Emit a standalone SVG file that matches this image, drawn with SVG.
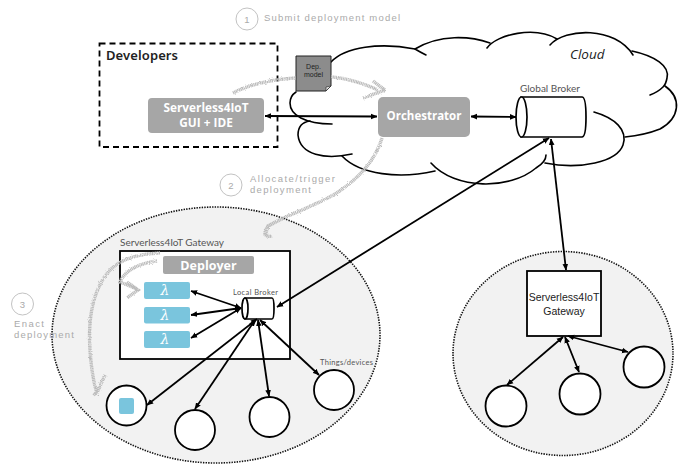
<svg xmlns="http://www.w3.org/2000/svg" width="684" height="465" viewBox="0 0 684 465">
<style>
text{font-family:"Lato","Liberation Sans",sans-serif;fill:#555}
.hand{font-family:"Liberation Sans",sans-serif;fill:#aaa;font-size:9.5px}
.lbl{font-size:10px}
.btn{font-family:"Open Sans",sans-serif;font-weight:700;fill:#fff;text-anchor:middle}
.grey{fill:#a6a6a6}
.zone{fill:#f2f2f2;stroke:#111;stroke-width:1.6;stroke-dasharray:1.4 1.2}
.thing{fill:#fff;stroke:#000;stroke-width:1.8}
.box{fill:#fff;stroke:#000;stroke-width:1.8}
.lam{fill:#7ac5dd}
.lamt{font-family:"DejaVu Serif",serif;font-style:italic;fill:#fff;font-size:14px;text-anchor:middle}
.cloud{fill:none;stroke:#000;stroke-width:1.6;stroke-linecap:round}
.c path,.c line{fill:none;stroke:#000;stroke-width:1.8;marker-start:url(#h);marker-end:url(#h)}
.sk{fill:none;stroke:#bcbcbc;stroke-width:3.4;stroke-dasharray:1.2 .5;filter:url(#rough)}
.step{fill:#fff;stroke:#bbb;stroke-width:.9}
</style>
<defs>
<marker id="h" viewBox="0 0 8 8" refX="7.5" refY="4" markerWidth="6.500" markerHeight="6.500" markerUnits="userSpaceOnUse" orient="auto-start-reverse"><path d="M0 0.5L8 4L0 7.500z" fill="#000"/></marker>
<filter id="rough" x="-20%" y="-20%" width="140%" height="140%"><feTurbulence type="fractalNoise" baseFrequency=".7" numOctaves="2" seed="3"/><feDisplacementMap in="SourceGraphic" scale="2.5"/></filter>
</defs>
<g id="zone-left"><ellipse class="zone" cx="216" cy="335" rx="164" ry="128"/></g>
<g id="zone-right"><ellipse class="zone" cx="563" cy="353.500" rx="110" ry="102"/></g>
<g id="cloud">
<path class="cloud" d="M331 62C345 47 380 42 415 49"/>
<path class="cloud" d="M415 49C440 34 470 36 490 43M426 55Q420 52 415 49"/>
<path class="cloud" d="M487 48C497 34 535 26 557 39"/>
<path class="cloud" d="M550 45C565 28 615 26 633 55"/>
<path class="cloud" d="M632 51C655 56 670 66 667 78Q666 84 663 87Q658 92 650 95"/>
<path class="cloud" d="M665 86C682 98 680 118 660 129Q645 135 625 137"/>
<path class="cloud" d="M594 112C615 118 628 130 623 145C617 162 580 170 545 163"/>
<path class="cloud" d="M546 155Q546 162 536 168C510 190 455 190 431 163"/>
<path class="cloud" d="M342 156C360 175 400 179 435 171"/>
<path class="cloud" d="M352 154C325 160 300 155 298 135C298 126 303 122 310 121"/>
<path class="cloud" d="M332 124C305 124 290 115 290 103Q290 96 296 92"/>
<text x="570" y="59" font-size="13.500" font-style="italic" style="font-family:'Open Sans',sans-serif;fill:#222">Cloud</text>
</g>
<g id="developers">
<rect x="99.500" y="43.500" width="178" height="103.500" fill="none" stroke="#000" stroke-width="1.800" stroke-dasharray="6 4"/>
<text x="106" y="60" font-size="13" font-weight="600" textLength="72" style="font-family:'Noto Sans',sans-serif;fill:#222">Developers</text>
</g>
<g id="gui"><rect class="grey" x="148" y="98" width="116" height="35" rx="4"/>
<text class="btn" x="206" y="112" font-size="11.800">Serverless4IoT</text><text class="btn" x="206" y="127" font-size="11.800">GUI + IDE</text></g>
<g id="orchestrator"><rect class="grey" x="378" y="97" width="92" height="40" rx="5"/><text class="btn" x="424" y="120" font-size="11.500">Orchestrator</text></g>
<g id="global-broker">
<text class="lbl" x="520" y="92">Global Broker</text>
<path d="M521 97H582Q586 97 586 117Q586 137 582 137H521Z" fill="#fff" stroke="#000" stroke-width="1.700"/>
<ellipse cx="521.500" cy="117" rx="5.500" ry="20" fill="#fff" stroke="#000" stroke-width="1.700"/>
</g>
<g id="gateway-left">
<text class="lbl" x="120" y="246" textLength="104">Serverless4IoT Gateway</text>
<rect class="box" x="120" y="251" width="170" height="108"/>
</g>
<g id="deployer"><rect class="grey" x="163" y="256" width="91" height="18" rx="2"/><text class="btn" x="208.500" y="269.500" font-size="12.500">Deployer</text></g>
<g id="lambda1"><rect class="lam" x="144" y="282" width="46" height="17" rx="2"/><text class="lamt" x="165" y="295">λ</text></g>
<g id="lambda2"><rect class="lam" x="144" y="307" width="46" height="16.500" rx="2"/><text class="lamt" x="165" y="320">λ</text></g>
<g id="lambda3"><rect class="lam" x="144" y="331" width="46" height="17" rx="2"/><text class="lamt" x="165" y="344">λ</text></g>
<g id="local-broker">
<text x="233" y="295" font-size="7.500" textLength="45">Local Broker</text>
<path d="M245 298H272Q274 298 274 308.500Q274 319 272 319H245Z" fill="#fff" stroke="#000" stroke-width="1.700"/>
<ellipse cx="245" cy="308.500" rx="3" ry="10.500" fill="#fff" stroke="#000" stroke-width="1.700"/>
</g>
<g id="thing1"><circle class="thing" cx="126.500" cy="405.500" r="20"/><rect class="lam" x="119" y="398" width="15" height="16" rx="2"/></g>
<g id="thing2"><circle class="thing" cx="195" cy="430" r="20"/></g>
<g id="thing3"><circle class="thing" cx="269.500" cy="417" r="20"/></g>
<g id="thing4"><circle class="thing" cx="334" cy="390" r="20"/><text x="320" y="364.500" font-size="7.500" textLength="53">Things/devices</text></g>
<g id="gateway-right">
<rect class="box" x="527" y="271" width="74" height="65"/>
<text x="564" y="301" font-size="10.500" text-anchor="middle" style="font-family:'Liberation Sans',sans-serif;fill:#222">Serverless4IoT</text>
<text x="564" y="315" font-size="10.500" text-anchor="middle" style="font-family:'Liberation Sans',sans-serif;fill:#222">Gateway</text>
</g>
<g id="thing5"><circle class="thing" cx="506" cy="406" r="20.500"/></g>
<g id="thing6"><circle class="thing" cx="580" cy="394" r="20.500"/></g>
<g id="thing7"><circle class="thing" cx="644" cy="367" r="20.500"/></g>
<g id="connectors" class="c">
<line x1="265" y1="116" x2="377" y2="116.500"/>
<line x1="471" y1="116.500" x2="516" y2="117"/>
<line x1="549" y1="138" x2="277" y2="307"/>
<line x1="551" y1="139" x2="566" y2="270"/>
<line x1="191" y1="291" x2="241" y2="308"/>
<line x1="191" y1="315" x2="241" y2="308"/>
<line x1="191" y1="338" x2="241" y2="308"/>
<line x1="257" y1="319" x2="147" y2="405"/>
<line x1="255" y1="320" x2="195" y2="409"/>
<line x1="258" y1="320" x2="269" y2="396"/>
<line x1="260" y1="320" x2="319" y2="375"/>
<line x1="563" y1="337" x2="507" y2="385"/>
<line x1="565" y1="337" x2="579" y2="372"/>
<line x1="568" y1="336" x2="628" y2="352"/>
</g>
<g id="dep-model">
<path d="M296 56H331V86L326 91H296Z" fill="#8c8c8c" stroke="#222" stroke-width="1"/>
<path d="M331 86L326 87L326 91Z" fill="#ddd" stroke="#222" stroke-width=".6"/>
<text x="313.500" y="69" font-size="7" text-anchor="middle" style="font-family:'Liberation Sans',sans-serif;fill:#222">Dep.</text>
<text x="313.500" y="77" font-size="7" text-anchor="middle" style="font-family:'Liberation Sans',sans-serif;fill:#222">model</text>
</g>
<g id="sketch-arrows">
<path class="sk" d="M233 93C250 84 275 79 296 78M331 77C345 78 360 82 378 90M373 81L385 90L363 98"/>
<path class="sk" d="M382 138C375 160 360 178 335 194C310 208 285 216 270 225C262 231 264 238 272 236M284 218L268 226L265 236"/>
<path class="sk" d="M160 253C140 254 122 258 110 270C92 290 88 320 90 350Q92 378 97 393M105 375L96 395L93 393"/>
<path class="sk" d="M157 261C140 263 125 270 120 282L137 289M127 282L138 290L127 298"/>
</g>
<g id="step1"><circle class="step" cx="247" cy="19" r="11"/><text class="hand" x="247" y="22.500" text-anchor="middle">1</text><text class="hand" x="264" y="21" textLength="136">Submit deployment model</text></g>
<g id="step2"><circle class="step" cx="231" cy="185" r="11"/><text class="hand" x="231" y="188.500" text-anchor="middle">2</text><text class="hand" x="250" y="182" textLength="85">Allocate/trigger</text><text class="hand" x="250" y="193" textLength="61">deployment</text></g>
<g id="step3"><circle class="step" cx="22.500" cy="304" r="11"/><text class="hand" x="22.500" y="307.500" text-anchor="middle">3</text><text class="hand" x="14" y="327" textLength="30">Enact</text><text class="hand" x="14" y="338" textLength="60">deployment</text></g>
</svg>
